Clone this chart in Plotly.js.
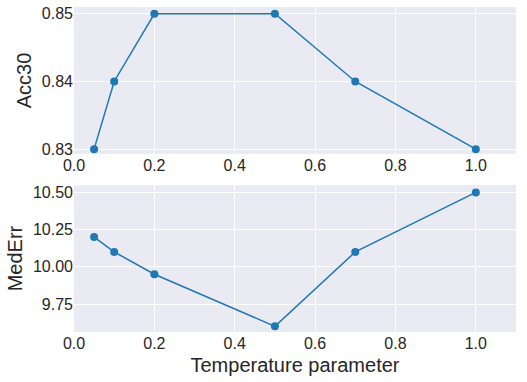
<!DOCTYPE html>
<html>
<head>
<meta charset="utf-8">
<script src="https://cdn.plot.ly/plotly-3.0.1.min.js"></script>
<style>
  html, body { margin: 0; padding: 0; background: #ffffff; }
  #chart { width: 527px; height: 382px; }
</style>
</head>
<body>
<div id="chart"></div>
<script>
// temperature values and the two metrics
const temperature = [0.05, 0.1, 0.2, 0.5, 0.7, 1.0];
const acc30 = [0.83, 0.84, 0.85, 0.85, 0.84, 0.83];
const medErr = [10.2, 10.1, 9.95, 9.6, 10.1, 10.5];

const xTicks = [0.0, 0.2, 0.4, 0.6, 0.8, 1.0];
const xTickText = ['0.0', '0.2', '0.4', '0.6', '0.8', '1.0'];
const accTicks = [0.83, 0.84, 0.85];
const accTickText = ['0.83', '0.84', '0.85'];
const errTicks = [9.75, 10.0, 10.25, 10.5];
const errTickText = ['9.75', '10.00', '10.25', '10.50'];

const lineColor = '#1f77b4';
const textColor = '#262626';
const fontFamily = 'Liberation Sans, Arial, sans-serif';

const traceAcc = {
    x: temperature,
    y: acc30,
    mode: 'lines+markers',
    xaxis: 'x',
    yaxis: 'y',
    line: { color: lineColor, width: 1.5 },
    marker: { color: lineColor, size: 8 }
};

const traceErr = {
    x: temperature,
    y: medErr,
    mode: 'lines+markers',
    xaxis: 'x2',
    yaxis: 'y2',
    line: { color: lineColor, width: 1.5 },
    marker: { color: lineColor, size: 8 }
};

const axisBase = {
    showgrid: true,
    gridcolor: '#ffffff',
    gridwidth: 1,
    zeroline: false,
    showline: false,
    ticks: '',
    tickfont: { family: fontFamily, size: 16, color: textColor }
};

const layout = {
    width: 527,
    height: 382,
    margin: { l: 74, r: 11, t: 7, b: 50 },
    paper_bgcolor: '#ffffff',
    plot_bgcolor: '#eaeaf2',
    showlegend: false,
    xaxis: Object.assign({}, axisBase, {
        domain: [0, 1], anchor: 'y', range: [0, 1.1],
        tickvals: xTicks, ticktext: xTickText
    }),
    yaxis: Object.assign({}, axisBase, {
        domain: [0.548, 1], anchor: 'x', range: [0.8293, 0.851],
        tickvals: accTicks, ticktext: accTickText,
        title: { text: 'Acc30', font: { family: fontFamily, size: 20, color: textColor }, standoff: 4 }
    }),
    xaxis2: Object.assign({}, axisBase, {
        domain: [0, 1], anchor: 'y2', range: [0, 1.1],
        tickvals: xTicks, ticktext: xTickText,
        title: { text: 'Temperature parameter', font: { family: fontFamily, size: 20, color: textColor }, standoff: 6 }
    }),
    yaxis2: Object.assign({}, axisBase, {
        domain: [0, 0.452], anchor: 'x2', range: [9.562, 10.549],
        tickvals: errTicks, ticktext: errTickText,
        title: { text: 'MedErr', font: { family: fontFamily, size: 20, color: textColor }, standoff: 4 }
    })
};

Plotly.newPlot('chart', [traceAcc, traceErr], layout, { displayModeBar: false, staticPlot: true });
</script>
</body>
</html>
